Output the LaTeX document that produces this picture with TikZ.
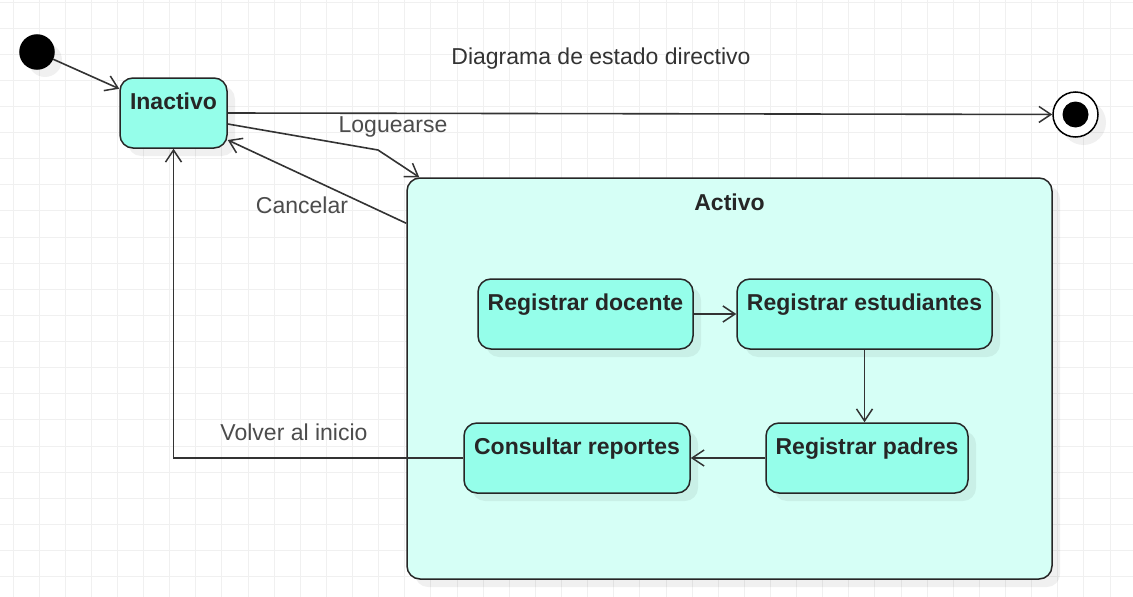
\documentclass[tikz,border=0pt]{standalone}
\usepackage{fontspec}
\setmainfont{Liberation Sans}
\usetikzlibrary{positioning, arrows.meta, shadows}

\definecolor{statefill}{HTML}{95FEEA}
\definecolor{superfill}{HTML}{D6FFF6}
\definecolor{inkgray}{HTML}{333333}

\begin{document}
\begin{tikzpicture}[x=1pt, y=-1pt, >={Straight Barb[length=12pt, width=16pt, line width=1.5pt]},
  shade off/.style={drop shadow={shadow xshift=8pt, shadow yshift=-8pt, fill=black, opacity=0.06}},
  state/.style={draw=black!85, line width=1.5pt, rounded corners=13pt, fill=statefill,
    shade off, minimum height=70pt, inner xsep=0pt, inner ysep=0pt,
    text height=31pt, text depth=39pt, font=\fontsize{23}{27}\selectfont\bfseries, text=black!85},
  superstate/.style={state, fill=superfill, text height=32pt, text depth=369pt},
  pseudo/.style={circle, draw=black, line width=1.5pt, inner sep=0pt, shade off},
  edge/.style={draw=inkgray, line width=1.6pt},
  edge label/.style={font=\fontsize{23}{27}\selectfont, text=black!70, inner sep=0pt},
  gridline/.style={draw=black!6, line width=1pt}]
  % Canvas and its grid
  \fill[white] (0,0) rectangle (1133,597);
  \useasboundingbox (0,0) rectangle (1133,597);
  \foreach \i in {0,...,42}
    \draw[gridline] ({13+26.12*\i},0) -- ++(0,597);
  \foreach \j in {0,...,22}
    \draw[gridline] (0,{2+26.12*\j}) -- ++(1133,0);

  \node[edge label, text=inkgray] (title) at (601,59) {Diagrama de estado directivo};

  % States
  \node[pseudo, fill=black, minimum size=34pt] (init) at (37,52) {};
  \node[state, minimum width=107pt] (inactivo) at (173.5,113) {Inactivo};
  \node[pseudo, fill=white, minimum size=45pt] (fin) at (1075.5,114.5) {};
  \fill[black] (fin) circle[radius=13pt];
  \node[superstate, minimum width=645pt, minimum height=401pt] (activo) at (729.5,378.5) {Activo};

  \node[state, minimum width=215pt] (docente) at (585.5,314) {Registrar docente};
  \node[state, minimum width=255pt] (estudiantes) at (864.5,314) {Registrar estudiantes};
  \node[state, minimum width=202pt] (padres) at (867,458) {Registrar padres};
  \node[state, minimum width=226pt] (reportes) at (577,458) {Consultar reportes};

  % Transitions
  \draw[edge, ->] (init) -- (inactivo);
  \draw[edge, ->] (inactivo.east) -- (fin);
  \draw[edge, ->] ([yshift=-11pt]inactivo.east) -- (378,150) -- ([xshift=13pt]activo.north west);
  \draw[edge, ->] ([yshift=-46pt]activo.north west) -- ([yshift=-27pt]inactivo.east);
  \draw[edge, ->] (docente) -- (estudiantes);
  \draw[edge, ->] (estudiantes.south) -- (estudiantes.south |- padres.north);
  \draw[edge, ->] (padres) -- (reportes);
  \draw[edge, ->] (reportes.west) -| (inactivo.south);

  \node[edge label] (loguearse) at (393,127) {Loguearse};
  \node[edge label] (cancelar) at (302,205) {Cancelar};
  \node[edge label] (volver) at (294,432) {Volver al inicio};
\end{tikzpicture}
\end{document}
